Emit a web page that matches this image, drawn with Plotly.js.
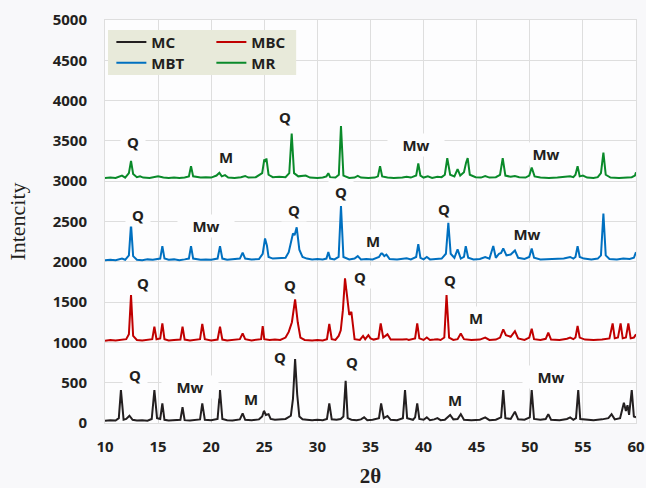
<!DOCTYPE html>
<html>
<head>
<meta charset="utf-8">
<script src="https://cdn.plot.ly/plotly-3.0.1.min.js"></script>
<style>html,body{margin:0;padding:0;background:#f8f8fa;}#chart{width:646px;height:488px;}</style>
</head>
<body>
<div id="chart"></div>
<script>
// ---- data: [2theta, intensity] ----
const seriesNames = ["MC", "MBC", "MBT", "MR"];
const seriesColors = ["#231f20", "#c00000", "#0070c0", "#0a8a2a"];

const mcPoints = [[10,28],[10.5,35],[11,30],[11.3,60],[11.5,409],[11.75,40],[12.0,50],[12.3,90],[12.6,40],[13.0,30],[13.5,35],[14.0,28],[14.4,50],[14.65,409],[14.9,60],[15.2,50],[15.4,244],[15.6,40],[16.0,30],[16.5,35],[17.1,40],[17.3,195],[17.5,35],[18.0,30],[18.5,38],[18.95,45],[19.16,244],[19.4,40],[20.0,35],[20.6,50],[20.83,409],[21.05,50],[21.5,35],[22.0,30],[22.7,45],[22.96,120],[23.2,40],[23.8,35],[24.5,45],[24.8,80],[24.97,153],[25.15,100],[25.4,110],[25.6,50],[26.0,40],[26.5,45],[27.0,50],[27.5,90],[27.7,300],[27.9,794],[28.1,350],[28.3,80],[28.6,45],[29.0,40],[29.5,35],[30.0,40],[30.5,35],[30.9,50],[31.12,244],[31.35,45],[31.8,40],[32.2,50],[32.45,80],[32.66,525],[32.85,60],[33.2,40],[33.7,35],[34.1,45],[34.4,70],[34.7,35],[35.2,40],[35.8,60],[36.0,244],[36.25,60],[36.6,87],[36.9,40],[37.5,35],[38.05,60],[38.25,409],[38.45,60],[39.0,40],[39.2,70],[39.4,244],[39.6,50],[40.0,40],[40.3,70],[40.6,35],[41.0,45],[41.3,60],[41.6,35],[42.0,40],[42.5,99],[42.8,45],[43.2,50],[43.5,110],[43.8,40],[44.5,35],[45.3,40],[45.8,70],[46.2,35],[46.8,40],[47.3,70],[47.5,409],[47.7,60],[48.2,50],[48.6,140],[48.9,45],[49.5,40],[50.0,70],[50.18,409],[50.4,50],[51.0,40],[51.5,50],[51.74,110],[52.0,40],[52.8,35],[53.5,50],[53.8,70],[54.1,40],[54.35,60],[54.56,409],[54.75,50],[55.3,40],[56.0,35],[56.8,45],[57.4,60],[57.7,110],[58.0,45],[58.5,60],[58.86,252],[59.05,150],[59.2,220],[59.35,100],[59.6,409],[59.8,80],[60.0,70]];

const mbcPoints = [[10,1020],[10.5,1030],[11,1025],[11.5,1035],[12.0,1040],[12.25,1100],[12.45,1587],[12.65,1080],[13.0,1030],[13.5,1025],[14.0,1030],[14.45,1040],[14.65,1194],[14.85,1040],[15.2,1050],[15.4,1236],[15.6,1040],[16.0,1025],[16.5,1030],[17.1,1035],[17.3,1194],[17.5,1035],[18.0,1025],[18.5,1030],[18.95,1040],[19.16,1228],[19.4,1040],[20.0,1025],[20.6,1035],[20.83,1194],[21.05,1035],[21.5,1025],[22.0,1030],[22.7,1040],[22.96,1112],[23.2,1040],[23.8,1025],[24.5,1030],[24.7,1040],[24.85,1203],[25.0,1040],[25.5,1030],[26.0,1035],[26.5,1030],[27.0,1060],[27.3,1130],[27.6,1250],[27.9,1534],[28.15,1250],[28.4,1060],[28.8,1030],[29.5,1025],[30.0,1030],[30.5,1025],[30.9,1040],[31.12,1228],[31.35,1040],[31.7,1030],[32.0,1080],[32.2,1150],[32.4,1400],[32.6,1794],[32.85,1500],[33.0,1340],[33.2,1380],[33.35,1200],[33.5,1040],[34.0,1030],[34.3,1080],[34.5,1040],[34.8,1090],[35.0,1050],[35.3,1035],[35.75,1050],[35.96,1236],[36.2,1060],[36.6,1100],[36.9,1035],[37.5,1030],[38.0,1035],[38.4,1040],[38.6,1030],[39.2,1050],[39.4,1236],[39.6,1050],[40.0,1030],[40.3,1060],[40.6,1030],[41.0,1035],[41.3,1040],[41.6,1030],[41.95,1060],[42.16,1587],[42.4,1060],[42.8,1030],[43.2,1040],[43.5,1110],[43.8,1040],[44.5,1030],[45.3,1035],[45.8,1060],[46.2,1030],[46.8,1035],[47.2,1060],[47.5,1162],[47.75,1090],[48.2,1070],[48.6,1140],[48.9,1050],[49.5,1030],[49.95,1060],[50.18,1170],[50.4,1040],[51.0,1030],[51.5,1045],[51.74,1120],[52.0,1035],[52.8,1030],[53.5,1045],[53.8,1060],[54.1,1040],[54.3,1060],[54.5,1203],[54.7,1060],[55.2,1035],[56.0,1030],[56.8,1035],[57.5,1050],[57.8,1236],[58.0,1050],[58.3,1060],[58.55,1236],[58.75,1050],[59.05,1060],[59.28,1236],[59.5,1050],[59.8,1060],[60.0,1100]];

const mbtPoints = [[10,2020],[10.5,2025],[11,2020],[11.6,2040],[11.9,2025],[12.25,2080],[12.45,2464],[12.65,2070],[13.0,2025],[13.5,2020],[14.0,2030],[14.5,2025],[15.2,2040],[15.4,2195],[15.6,2040],[16.0,2025],[16.5,2030],[17.0,2020],[17.5,2030],[17.9,2040],[18.1,2195],[18.3,2040],[19.0,2025],[19.5,2030],[20.0,2025],[20.6,2040],[20.83,2195],[21.05,2040],[21.5,2025],[22.0,2030],[22.7,2040],[22.96,2112],[23.2,2040],[23.8,2030],[24.5,2035],[24.85,2100],[25.07,2290],[25.25,2200],[25.4,2060],[25.8,2040],[26.5,2045],[27.0,2050],[27.3,2120],[27.7,2352],[27.85,2330],[28.05,2427],[28.3,2150],[28.6,2060],[29.0,2040],[29.5,2030],[30.0,2035],[30.5,2030],[30.85,2040],[31.03,2120],[31.2,2040],[31.6,2030],[32.0,2060],[32.22,2691],[32.45,2060],[33.0,2030],[33.5,2040],[33.8,2070],[34.1,2030],[34.6,2035],[35.2,2030],[35.8,2060],[36.05,2112],[36.3,2070],[36.5,2090],[36.8,2035],[37.5,2030],[38.0,2035],[38.4,2045],[38.8,2030],[39.3,2060],[39.5,2220],[39.7,2050],[40.0,2030],[40.3,2060],[40.6,2030],[41.0,2035],[41.3,2040],[41.7,2040],[42.1,2100],[42.33,2484],[42.55,2100],[42.9,2050],[43.2,2154],[43.5,2040],[43.8,2060],[43.97,2195],[44.2,2050],[44.7,2030],[45.3,2035],[45.8,2060],[46.2,2040],[46.56,2195],[46.8,2050],[47.1,2100],[47.3,2110],[47.5,2166],[47.8,2080],[48.2,2090],[48.6,2140],[48.9,2050],[49.5,2035],[49.95,2060],[50.18,2166],[50.4,2050],[51.0,2030],[51.8,2035],[52.5,2030],[53.2,2040],[53.8,2060],[54.1,2040],[54.3,2060],[54.5,2195],[54.7,2060],[55.1,2040],[55.8,2030],[56.4,2040],[56.7,2080],[56.93,2600],[57.15,2080],[57.5,2035],[58.2,2030],[58.8,2040],[59.4,2035],[59.8,2050],[60.0,2120]];

const mrPoints = [[10,3040],[10.5,3045],[11,3040],[11.6,3070],[11.9,3045],[12.25,3100],[12.45,3253],[12.65,3090],[13.0,3050],[13.3,3060],[13.6,3045],[14.2,3040],[15.0,3060],[15.5,3045],[16.0,3040],[16.5,3045],[17.0,3040],[17.5,3045],[17.9,3060],[18.1,3187],[18.3,3060],[19.0,3045],[19.5,3050],[20.0,3045],[20.5,3070],[20.77,3104],[21.0,3060],[21.3,3075],[21.6,3045],[22.2,3040],[22.8,3050],[23.2,3065],[23.5,3045],[24.2,3050],[24.8,3100],[25.0,3270],[25.1,3240],[25.2,3282],[25.4,3080],[25.8,3050],[26.4,3055],[27.0,3050],[27.35,3100],[27.58,3592],[27.8,3100],[28.2,3060],[28.9,3070],[29.3,3045],[30.0,3040],[30.5,3045],[30.85,3060],[31.03,3100],[31.2,3050],[31.7,3045],[32.02,3080],[32.22,3683],[32.45,3070],[33.0,3040],[33.5,3045],[33.8,3065],[34.1,3045],[34.8,3040],[35.4,3045],[35.7,3060],[35.9,3187],[36.1,3060],[36.6,3045],[37.2,3040],[38.0,3045],[38.4,3055],[38.8,3045],[39.3,3070],[39.5,3220],[39.7,3070],[40.0,3045],[40.4,3060],[40.8,3040],[41.3,3055],[41.7,3050],[42.0,3080],[42.23,3286],[42.5,3080],[42.9,3060],[43.2,3150],[43.45,3070],[43.8,3110],[44.0,3230],[44.15,3286],[44.35,3080],[44.9,3050],[45.4,3045],[45.8,3065],[46.2,3045],[46.8,3050],[47.2,3080],[47.45,3286],[47.7,3070],[48.2,3055],[48.6,3065],[49.0,3050],[49.6,3045],[49.95,3070],[50.18,3170],[50.45,3060],[51.0,3045],[51.8,3040],[52.6,3045],[53.3,3050],[53.8,3060],[54.1,3050],[54.3,3080],[54.5,3187],[54.7,3060],[55.0,3070],[55.4,3045],[56.0,3040],[56.4,3050],[56.7,3100],[56.93,3356],[57.15,3080],[57.6,3045],[58.4,3040],[59.0,3045],[59.6,3050],[59.9,3070],[60.0,3110]];

const xTickVals = [10, 15, 20, 25, 30, 35, 40, 45, 50, 55, 60];
const yTickVals = [0, 500, 1000, 1500, 2000, 2500, 3000, 3500, 4000, 4500, 5000];

// phase labels: [text, 2theta, intensity]
const phaseLabels = [
  ["Q", 12.64, 3484], ["M", 21.39, 3298], ["Q", 26.95, 3794], ["Mw", 39.28, 3447], ["Mw", 51.53, 3336],
  ["Q", 13.1, 2579], ["Mw", 19.5, 2443], ["Q", 27.8, 2641], ["Q", 32.22, 2864], ["M", 35.24, 2257], ["Q", 41.92, 2654], ["Mw", 49.74, 2344],
  ["Q", 13.58, 1736], ["Q", 27.42, 1711], ["Q", 34.01, 1810], ["Q", 42.49, 1773], ["M", 44.93, 1302],
  ["Q", 12.82, 595], ["Mw", 18.0, 446], ["M", 23.75, 298], ["Q", 26.48, 818], ["Q", 33.26, 756], ["M", 42.96, 285], ["Mw", 52.0, 570]
];

const allPoints = [mcPoints, mbcPoints, mbtPoints, mrPoints];
const legendIds = ["legend", "legend", "legend2", "legend2"];

const traces = allPoints.map((pts, i) => ({
  type: "scatter",
  mode: "lines",
  name: seriesNames[i],
  x: pts.map(p => p[0]),
  y: pts.map(p => p[1]),
  line: {color: seriesColors[i], width: 2},
  legend: legendIds[i]
}));

const sansBold = {family: "Noto Sans, Liberation Sans, sans-serif", size: 15, color: "#231f20", weight: "bold"};

const annotations = phaseLabels.map(a => ({
  text: a[0], x: a[1], y: a[2], xref: "x", yref: "y",
  showarrow: false, bgcolor: "#fdfdfe",
  width: a[0] === "Mw" ? 54 : 22, borderpad: 1,
  font: sansBold
}));

const legendCommon = {
  orientation: "h", bgcolor: "rgba(0,0,0,0)", borderwidth: 0,
  font: sansBold, entrywidth: 55, entrywidthmode: "pixels",
  xanchor: "left", yanchor: "top", itemclick: false
};

const layout = {
  width: 646, height: 488,
  margin: {l: 105, r: 10, t: 20, b: 65},
  paper_bgcolor: "#f8f8fa",
  plot_bgcolor: "#fdfdfe",
  showlegend: true,
  xaxis: {
    range: [10, 60], tickvals: xTickVals, ticks: "",
    showgrid: true, gridcolor: "#dedede", gridwidth: 1,
    showline: true, mirror: true, linecolor: "#dedede", linewidth: 1,
    zeroline: false, ticklabelstandoff: 10,
    tickfont: sansBold,
    title: {text: "2θ", font: {family: "Liberation Serif, Times New Roman, serif", size: 21, color: "#231f20", weight: "bold"}, standoff: 24}
  },
  yaxis: {
    range: [0, 5000], tickvals: yTickVals, ticks: "",
    showgrid: true, gridcolor: "#dedede", gridwidth: 1,
    showline: true, mirror: true, linecolor: "#dedede", linewidth: 1,
    zeroline: true, zerolinecolor: "#bdbdbd", zerolinewidth: 1,
    ticklabelstandoff: 14,
    tickfont: sansBold,
    title: {text: "Intencity", font: {family: "Liberation Serif, Times New Roman, serif", size: 22, color: "#231f20"}, standoff: 20}
  },
  legend: Object.assign({x: 0.012, y: 0.986}, legendCommon),
  legend2: Object.assign({x: 0.012, y: 0.934}, legendCommon),
  shapes: [{
    type: "rect", xref: "paper", yref: "paper",
    x0: 0.0056, x1: 0.36, y0: 0.8635, y1: 0.975,
    fillcolor: "#e8eada", line: {width: 0}, layer: "above"
  }],
  annotations: annotations
};

Plotly.newPlot("chart", traces, layout, {staticPlot: true, displayModeBar: false});
</script>
</body>
</html>
